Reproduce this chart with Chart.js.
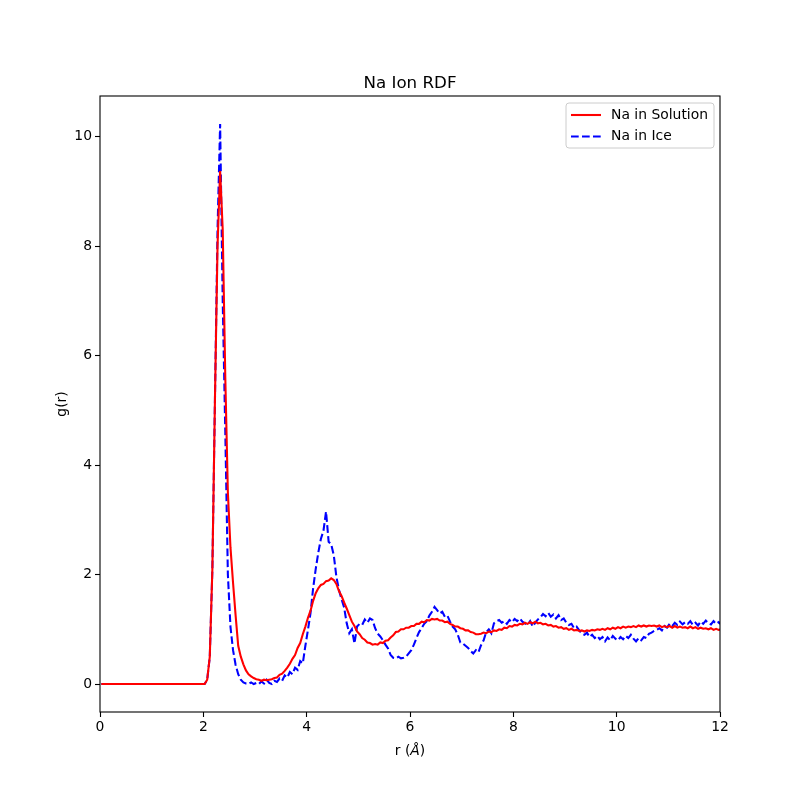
<!DOCTYPE html>
<html><head><meta charset="utf-8">
<script src="https://cdn.jsdelivr.net/npm/chart.js@4"></script>
<style>html,body{margin:0;padding:0;background:#fff}canvas{display:block}</style>
</head><body>
<canvas id="c" width="800" height="800"></canvas>
<script>
const CHART_TITLE = 'Na Ion RDF';
const X_LABEL_PARTS = ['r (', 'Å', ')'];
const Y_LABEL = 'g(r)';
const seriesNames = ['Na in Solution', 'Na in Ice'];
const seriesColors = ['#ff0000', '#0000ff'];
const R_START = 0.025, R_STEP = 0.05;   // bin centres, r in Å
const xTicks = [0, 2, 4, 6, 8, 10, 12];
const yTicks = [0, 2, 4, 6, 8, 10];

// g(r) for Na in solution, bin centres r = 0.025 ... step 0.05
const gSolution = [
  0,0,0,0,0,0,0,0,0,0,
  0,0,0,0,0,0,0,0,0,0,
  0,0,0,0,0,0,0,0,0,0,
  0,0,0,0,0,0,0,0,0,0,
  0.00,0.08,0.50,2.10,5.20,8.00,9.37,8.30,5.60,3.50,
  2.50,1.85,1.25,0.70,0.50,0.36,0.25,0.18,0.14,0.11,
  0.09,0.08,0.06,0.08,0.07,0.08,0.09,0.11,0.12,0.17,
  0.19,0.24,0.30,0.37,0.46,0.53,0.66,0.75,0.91,1.05,
  1.21,1.34,1.52,1.66,1.75,1.81,1.83,1.88,1.89,1.93,
  1.90,1.83,1.70,1.61,1.49,1.38,1.26,1.14,1.06,0.96,
  0.91,0.84,0.81,0.76,0.75,0.72,0.73,0.72,0.76,0.75,
  0.79,0.80,0.85,0.89,0.95,0.96,1.00,1.00,1.03,1.03,
  1.06,1.06,1.10,1.10,1.14,1.13,1.17,1.16,1.19,1.18,
  1.19,1.16,1.16,1.13,1.14,1.10,1.08,1.05,1.05,1.02,
  1.01,0.98,0.98,0.95,0.94,0.91,0.91,0.92,0.94,0.93,
  0.96,0.95,0.98,0.97,1.00,0.99,1.03,1.02,1.06,1.05,
  1.08,1.07,1.10,1.09,1.12,1.10,1.13,1.11,1.14,1.11,
  1.12,1.09,1.10,1.07,1.08,1.05,1.06,1.03,1.04,1.01,
  1.02,0.99,1.01,0.98,0.99,0.97,0.98,0.96,0.98,0.97,
  0.99,0.98,1.00,0.99,1.01,0.99,1.02,1.00,1.03,1.01,
  1.04,1.02,1.05,1.03,1.05,1.04,1.06,1.04,1.07,1.05,
  1.07,1.05,1.07,1.06,1.07,1.05,1.07,1.04,1.06,1.04,
  1.06,1.03,1.06,1.03,1.05,1.03,1.04,1.02,1.05,1.02,
  1.04,1.01,1.03,1.01,1.02,1.00,1.02,0.99,1.01,0.99,
  1.00
];

// g(r) for Na in ice, same grid
const gIce = [
  0,0,0,0,0,0,0,0,0,0,
  0,0,0,0,0,0,0,0,0,0,
  0,0,0,0,0,0,0,0,0,0,
  0,0,0,0,0,0,0,0,0,0,
  0.00,0.08,0.50,2.10,5.20,8.30,10.23,7.00,4.60,2.00,
  1.05,0.62,0.35,0.18,0.08,0.03,0.01,0.00,0.03,0.00,
  0.02,0.00,0.05,0.01,0.08,0.02,0.00,0.06,0.04,0.10,
  0.06,0.16,0.12,0.22,0.18,0.30,0.26,0.42,0.38,0.70,
  0.99,1.30,1.75,2.10,2.40,2.65,2.80,3.15,2.60,2.55,
  2.35,1.96,1.72,1.55,1.40,1.11,0.93,1.00,0.74,1.05,
  1.10,1.08,1.18,1.12,1.20,1.17,1.02,0.92,0.87,0.80,
  0.72,0.65,0.53,0.48,0.47,0.50,0.47,0.48,0.50,0.56,
  0.62,0.72,0.84,0.95,1.02,1.10,1.15,1.25,1.32,1.41,
  1.35,1.29,1.32,1.23,1.25,1.14,1.05,1.00,0.90,0.76,
  0.74,0.70,0.66,0.60,0.56,0.62,0.58,0.71,0.80,0.95,
  1.00,0.93,1.11,1.15,1.17,1.12,1.15,1.10,1.17,1.13,
  1.19,1.15,1.20,1.14,1.11,1.08,1.15,1.05,1.12,1.18,
  1.22,1.28,1.24,1.30,1.23,1.27,1.20,1.26,1.17,1.20,
  1.12,1.08,1.10,1.02,1.05,0.98,0.92,0.90,0.94,0.86,
  0.90,0.84,0.88,0.82,0.86,0.78,0.85,0.80,0.88,0.83,
  0.80,0.86,0.82,0.88,0.84,0.90,0.83,0.78,0.84,0.80,
  0.86,0.84,0.92,0.94,0.97,0.99,1.02,0.98,1.06,1.03,
  1.10,1.06,1.12,1.08,1.14,1.09,1.13,1.10,1.15,1.08,
  1.12,1.07,1.14,1.10,1.16,1.11,1.09,1.15,1.10,1.13,
  1.08
];

const rValues = gSolution.map((_, i) => +(R_START + i * R_STEP).toFixed(3));
const toPoints = arr => arr.map((g, i) => ({ x: rValues[i], y: g }));

const FONT = 'DejaVu Sans';
Chart.defaults.font.family = FONT;
Chart.defaults.font.size = 13.9;
Chart.defaults.color = '#000';

const decor = {
  id: 'decor',
  afterDatasetsDraw(chart) {
    const { ctx, chartArea: a } = chart;
    ctx.save();
    ctx.strokeStyle = '#000';
    ctx.lineWidth = 1.1;
    ctx.strokeRect(a.left, a.top, a.right - a.left, a.bottom - a.top);

    // title
    ctx.fillStyle = '#000';
    ctx.font = '16.7px ' + FONT;
    ctx.textAlign = 'center';
    ctx.textBaseline = 'alphabetic';
    ctx.fillText(CHART_TITLE, (a.left + a.right) / 2, 88);

    // x label with italic Å
    ctx.font = '13.9px ' + FONT;
    const w0 = ctx.measureText(X_LABEL_PARTS[0]).width;
    ctx.font = 'italic 13.9px ' + FONT;
    const w1 = ctx.measureText(X_LABEL_PARTS[1]).width;
    ctx.font = '13.9px ' + FONT;
    const w2 = ctx.measureText(X_LABEL_PARTS[2]).width;
    let x = (a.left + a.right) / 2 - (w0 + w1 + w2) / 2;
    ctx.textAlign = 'left';
    ctx.fillText(X_LABEL_PARTS[0], x, 755);
    ctx.font = 'italic 13.9px ' + FONT;
    ctx.fillText(X_LABEL_PARTS[1], x + w0, 755);
    ctx.font = '13.9px ' + FONT;
    ctx.fillText(X_LABEL_PARTS[2], x + w0 + w1, 755);

    // y label
    ctx.save();
    ctx.translate(62, (a.top + a.bottom) / 2);
    ctx.rotate(-Math.PI / 2);
    ctx.textAlign = 'center';
    ctx.textBaseline = 'middle';
    ctx.fillText(Y_LABEL, 0, 0);
    ctx.restore();

    // legend
    const lx = 566, ly = 103, lw = 148, lh = 45, rad = 3;
    ctx.beginPath();
    ctx.moveTo(lx + rad, ly);
    ctx.arcTo(lx + lw, ly, lx + lw, ly + lh, rad);
    ctx.arcTo(lx + lw, ly + lh, lx, ly + lh, rad);
    ctx.arcTo(lx, ly + lh, lx, ly, rad);
    ctx.arcTo(lx, ly, lx + lw, ly, rad);
    ctx.closePath();
    ctx.fillStyle = 'rgba(255,255,255,0.8)';
    ctx.fill();
    ctx.strokeStyle = '#cccccc';
    ctx.lineWidth = 1;
    ctx.stroke();
    chart.data.datasets.forEach((ds, i) => {
      const yy = 115 + i * 21.5;
      ctx.beginPath();
      ctx.strokeStyle = ds.borderColor;
      ctx.lineWidth = ds.borderWidth;
      ctx.setLineDash(ds.borderDash || []);
      ctx.moveTo(571, yy);
      ctx.lineTo(601, yy);
      ctx.stroke();
      ctx.setLineDash([]);
      ctx.fillStyle = '#000';
      ctx.font = '13.9px ' + FONT;
      ctx.textAlign = 'left';
      ctx.textBaseline = 'middle';
      ctx.fillText(ds.label, 611, yy);
    });
    ctx.restore();
  }
};

new Chart(document.getElementById('c'), {
  type: 'line',
  data: {
    datasets: [
      { label: seriesNames[0], data: toPoints(gSolution), borderColor: seriesColors[0],
        borderWidth: 2.08, pointRadius: 0, tension: 0, fill: false },
      { label: seriesNames[1], data: toPoints(gIce), borderColor: seriesColors[1],
        borderWidth: 2.08, borderDash: [7.7, 3.3], pointRadius: 0, tension: 0, fill: false }
    ]
  },
  options: {
    responsive: false,
    animation: false,
    events: [],
    layout: { padding: { top: 96, right: 80, bottom: 0, left: 0 } },
    plugins: { legend: { display: false }, title: { display: false }, tooltip: { enabled: false } },
    scales: {
      x: {
        type: 'linear', min: xTicks[0], max: xTicks[xTicks.length - 1],
        afterBuildTicks: s => { s.ticks = xTicks.map(v => ({ value: v })); },
        afterFit: s => { s.height = 88; },
        grid: { drawOnChartArea: false, drawTicks: true, tickLength: 5, tickColor: '#000', tickWidth: 1.1 },
        border: { display: false },
        ticks: { padding: 2, maxRotation: 0, autoSkip: false, color: '#000', font: { size: 13.9 } }
      },
      y: {
        type: 'linear', min: -0.51, max: 10.74,
        afterBuildTicks: s => { s.ticks = yTicks.map(v => ({ value: v })); },
        afterFit: s => { s.width = 100; },
        grid: { drawOnChartArea: false, drawTicks: true, tickLength: 5, tickColor: '#000', tickWidth: 1.1 },
        border: { display: false },
        ticks: { padding: 3, autoSkip: false, color: '#000', font: { size: 13.9 } }
      }
    }
  },
  plugins: [decor]
});
</script>
</body></html>
